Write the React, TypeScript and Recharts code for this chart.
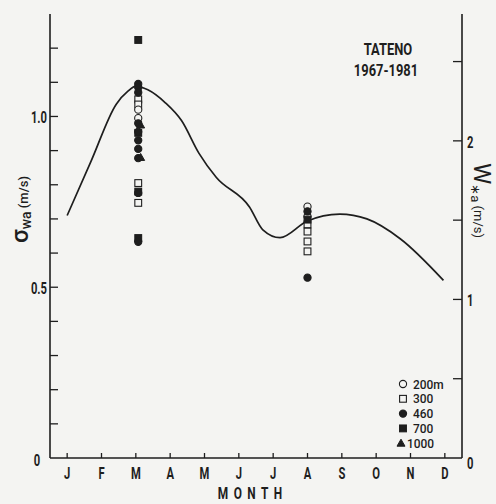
import React from 'react';
import { ComposedChart, Line, Scatter, XAxis, YAxis } from 'recharts';

const MONTH_TICKS = [1, 2, 3, 4, 5, 6, 7, 8, 9, 10, 11, 12];
const MONTH_LABELS = ['J', 'F', 'M', 'A', 'M', 'J', 'J', 'A', 'S', 'O', 'N', 'D'];
const SIGMA_TICKS = [0, 0.1, 0.2, 0.3, 0.4, 0.5, 0.6, 0.7, 0.8, 0.9, 1.0, 1.1, 1.2];
const SIGMA_LABELED = ['0.5', '1.0'];
const W_TICKS = [0, 0.5, 1, 1.5, 2, 2.5];
const W_LABELED = ['0', '1', '2'];

// Seasonal curve (read against the left sigma axis)
const curveMonth = [1.0, 1.7, 2.43, 2.77, 3.0, 3.35, 3.86, 4.33, 4.84, 5.34, 6.31, 6.7, 7.2, 7.98, 8.94, 9.73, 10.7, 11.96];
const curveSigma = [0.71, 0.87, 1.036, 1.074, 1.089, 1.078, 1.04, 0.988, 0.892, 0.822, 0.735, 0.668, 0.645, 0.693, 0.714, 0.7, 0.642, 0.52];

const MARCH = 3.07;
const MARCH_TRI = 3.14;
const AUGUST = 8.0;

const h200March = [1.02, 0.995];
const h200August = [0.736, 0.707];
const h300March = [1.05, 1.035, 0.805, 0.747];
const h300August = [0.684, 0.663, 0.634, 0.605];
const h460March = [1.095, 1.085, 1.07, 0.98, 0.955, 0.93, 0.905, 0.878, 0.776, 0.633];
const h460August = [0.722, 0.528];
const h700March = [1.224, 0.952, 0.78, 0.644];
const h700August = [0.698];
const h1000March = [0.975, 0.88];

const LEGEND = [
  { kind: 'circle', filled: false, label: '200m' },
  { kind: 'square', filled: false, label: '300' },
  { kind: 'circle', filled: true, label: '460' },
  { kind: 'square', filled: true, label: '700' },
  { kind: 'triangle', filled: true, label: '1000' },
];

const INK = '#1e1e1e';
const BG = '#f4f4f2';
const FONT = "Roboto, 'Liberation Sans', sans-serif";

const pts = (m: number, vals: number[]) => vals.map((v) => ({ m, v }));
const curveData = curveMonth.map((m, i) => ({ m, v: curveSigma[i] }));
const d200 = [...pts(MARCH, h200March), ...pts(AUGUST, h200August)];
const d300 = [...pts(MARCH, h300March), ...pts(AUGUST, h300August)];
const d460 = [...pts(MARCH, h460March), ...pts(AUGUST, h460August)];
const d700 = [...pts(MARCH, h700March), ...pts(AUGUST, h700August)];
const d1000 = pts(MARCH_TRI, h1000March);

function Marker({ kind, filled, cx, cy }: { kind: string; filled: boolean; cx: number; cy: number }) {
  const fill = filled ? INK : BG;
  if (kind === 'circle') return <circle cx={cx} cy={cy} r={3.6} fill={fill} stroke={INK} strokeWidth={1.1} />;
  if (kind === 'square') return <rect x={cx - 3.4} y={cy - 3.4} width={6.8} height={6.8} fill={fill} stroke={INK} strokeWidth={1.1} />;
  return <polygon points={`${cx},${cy - 4} ${cx + 4},${cy + 3} ${cx - 4},${cy + 3}`} fill={fill} stroke={INK} strokeWidth={1} />;
}

function CT({ x, y, size, sx = 0.66, anchor = 'middle', children, weight = 700, rotate = 0, textLength, lengthAdjust }: any) {
  return (
    <g transform={`translate(${x},${y}) rotate(${rotate}) scale(${sx},1)`}>
      <text x={0} y={0} fontSize={size} fontFamily={FONT} fontWeight={weight} textAnchor={anchor} fill={INK} textLength={textLength} lengthAdjust={lengthAdjust}>
        {children}
      </text>
    </g>
  );
}

const fmt1 = (v: number) => (Math.round(v * 10) / 10).toFixed(1);

function LeftTick(props: any) {
  const { x, y, payload } = props;
  const v = payload.value as number;
  const lab = fmt1(v);
  return (
    <g>
      {v > 0 && <line x1={x} y1={y} x2={x + 8} y2={y} stroke={INK} strokeWidth={1.3} />}
      {v === 0 && <CT x={x - 13} y={y + 8} size={17}>0</CT>}
      {SIGMA_LABELED.includes(lab) && <CT x={x - 3} y={y + 6.5} size={17} anchor="end">{lab}</CT>}
    </g>
  );
}

function RightTick(props: any) {
  const { x, y, payload } = props;
  const v = payload.value as number;
  const lab = String(v);
  return (
    <g>
      {v > 0 && <line x1={x - 9} y1={y} x2={x} y2={y} stroke={INK} strokeWidth={1.3} />}
      {W_LABELED.includes(lab) && <CT x={x + 5} y={y + (v === 0 ? 11 : 7)} size={17} anchor="start">{lab}</CT>}
    </g>
  );
}

function BottomTick(props: any) {
  const { x, y, payload } = props;
  const v = payload.value as number;
  return (
    <g>
      <line x1={x} y1={y} x2={x} y2={y - 5} stroke={INK} strokeWidth={1.3} />
      <CT x={x} y={y + 21} size={17}>{MONTH_LABELS[v - 1]}</CT>
    </g>
  );
}

function TopTick(props: any) {
  const { x, y } = props;
  return <line x1={x} y1={y} x2={x} y2={y + 5} stroke={INK} strokeWidth={1.3} />;
}

const circleShape = (filled: boolean) => (p: any) => <Marker kind="circle" filled={filled} cx={p.cx} cy={p.cy} />;
const squareShape = (filled: boolean) => (p: any) => <Marker kind="square" filled={filled} cx={p.cx} cy={p.cy} />;
const triShape = (p: any) => <Marker kind="triangle" filled={true} cx={p.cx} cy={p.cy} />;

export default function App() {
  const axisLine = { stroke: INK, strokeWidth: 1.6 };
  return (
    <div style={{ position: 'relative', width: 496, height: 504, background: BG }}>
      <style>{`body{margin:0;background:${BG}}`}</style>
      <ComposedChart width={496} height={504} margin={{ top: 14, right: 0, bottom: 0, left: 0 }}>
        <XAxis
          xAxisId="bottom"
          dataKey="m"
          type="number"
          domain={[0.5, 12.5]}
          ticks={MONTH_TICKS}
          allowDataOverflow
          height={46}
          axisLine={axisLine}
          tickLine={false}
          tickSize={0}
          tickMargin={0}
          tick={<BottomTick />}
          interval={0}
        />
        <XAxis
          xAxisId="top"
          orientation="top"
          type="number"
          domain={[0.5, 12.5]}
          ticks={MONTH_TICKS}
          allowDataOverflow
          height={0}
          axisLine={axisLine}
          tickLine={false}
          tickSize={0}
          tickMargin={0}
          tick={<TopTick />}
          interval={0}
        />
        <YAxis
          yAxisId="left"
          dataKey="v"
          type="number"
          domain={[0, 1.3]}
          ticks={SIGMA_TICKS}
          allowDataOverflow
          width={50}
          axisLine={axisLine}
          tickLine={false}
          tickSize={0}
          tickMargin={0}
          tick={<LeftTick />}
          interval={0}
        />
        <YAxis
          yAxisId="right"
          orientation="right"
          type="number"
          domain={[0, 2.8]}
          ticks={W_TICKS}
          allowDataOverflow
          width={34}
          axisLine={axisLine}
          tickLine={false}
          tickSize={0}
          tickMargin={0}
          tick={<RightTick />}
          interval={0}
        />
        <Line
          xAxisId="bottom"
          yAxisId="left"
          data={curveData}
          dataKey="v"
          type="monotone"
          stroke={INK}
          strokeWidth={1.7}
          dot={false}
          isAnimationActive={false}
        />
        <Scatter xAxisId="bottom" yAxisId="left" data={d300} dataKey="v" shape={squareShape(false)} isAnimationActive={false} />
        <Scatter xAxisId="bottom" yAxisId="left" data={d200} dataKey="v" shape={circleShape(false)} isAnimationActive={false} />
        <Scatter xAxisId="bottom" yAxisId="left" data={d700} dataKey="v" shape={squareShape(true)} isAnimationActive={false} />
        <Scatter xAxisId="bottom" yAxisId="left" data={d460} dataKey="v" shape={circleShape(true)} isAnimationActive={false} />
        <Scatter xAxisId="bottom" yAxisId="left" data={d1000} dataKey="v" shape={triShape} isAnimationActive={false} />
      </ComposedChart>
      <svg width={496} height={504} style={{ position: 'absolute', left: 0, top: 0, pointerEvents: 'none' }}>
        <CT x={388} y={55} size={17} sx={0.76}>TATENO</CT>
        <CT x={386} y={76} size={17} sx={0.76}>1967-1981</CT>
        {LEGEND.map((it, i) => {
          const cy = 384 + i * 14.8;
          const tri = it.kind === 'triangle';
          return (
            <g key={it.label}>
              <Marker kind={it.kind} filled={it.filled} cx={tri ? 401 : 403} cy={cy} />
              <CT x={tri ? 407 : 413} y={cy + 4.6} size={12.6} sx={0.95} weight={500} anchor="start">{it.label}</CT>
            </g>
          );
        })}
        <CT x={250} y={499} size={17} sx={0.7} textLength={92} lengthAdjust="spacing">MONTH</CT>
        <g transform="translate(28,243) rotate(-90)">
          <text x={0} y={0} fontFamily={FONT} fill={INK} fontWeight={500}>
            <tspan fontSize={24}>σ</tspan>
            <tspan fontSize={14} dy={3}>wa</tspan>
            <tspan fontSize={13} dy={-3}> (m/s)</tspan>
          </text>
        </g>
        <g transform="translate(474,163) rotate(90)">
          <text x={0} y={0} fontFamily={FONT} fill={INK} fontWeight={400}>
            <tspan fontSize={24}>W</tspan>
            <tspan fontSize={13} dy={3}>∗a</tspan>
            <tspan fontSize={13} dy={-3}> (m/s)</tspan>
          </text>
        </g>
      </svg>
    </div>
  );
}
